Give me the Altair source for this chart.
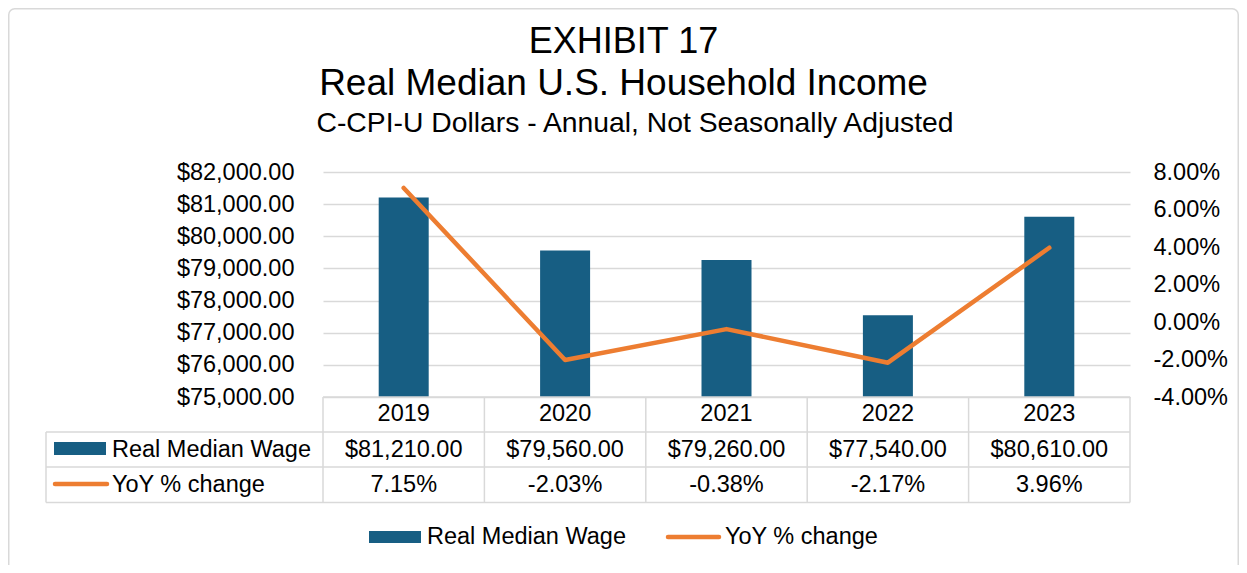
import altair as alt
import pandas as pd

# ---------------- data ----------------
years = ["2019", "2020", "2021", "2022", "2023"]
wage = [81210, 79560, 79260, 77540, 80610]
yoy = [7.15, -2.03, -0.38, -2.17, 3.96]
left_ticks = [75000, 76000, 77000, 78000, 79000, 80000, 81000, 82000]
right_ticks = [-4, -2, 0, 2, 4, 6, 8]
series = ["Real Median Wage", "YoY % change"]
title_lines = ["EXHIBIT 17", "Real Median U.S. Household Income"]
subtitle = "C-CPI-U Dollars - Annual, Not Seasonally Adjusted"

df = pd.DataFrame({"year": years, "wage": wage, "yoy": yoy})

# ---------------- style ----------------
W, H = 807, 225
PAD = {"left": 315, "top": 164, "right": 109, "bottom": 168}
FONT = "Liberation Sans"
BLUE = "#175E83"
ORANGE = "#ED7D31"
GRID = "#D9D9D9"
FS = 23.5

one = alt.Data(values=[{"k": 1}])

xenc = alt.X("year:O", scale=alt.Scale(paddingInner=0, paddingOuter=0), axis=None)

bars = alt.Chart(df).mark_bar(size=50, color=BLUE).encode(
    x=xenc,
    y=alt.Y(
        "wage:Q",
        scale=alt.Scale(domain=[left_ticks[0], left_ticks[-1]], zero=False, nice=False),
        axis=alt.Axis(
            values=left_ticks, format="$,.2f", grid=True, gridColor=GRID, gridWidth=1.5,
            domain=False, ticks=False, labelPadding=29, labelFontSize=FS, labelFont=FONT,
            labelColor="black", labelFlush=False, labelOverlap=False, title=None,
        ),
    ),
    y2=alt.datum(left_ticks[0]),
)

line = alt.Chart(df).mark_line(
    color=ORANGE, strokeWidth=4.5, strokeCap="round", strokeJoin="round"
).encode(
    x=xenc,
    y=alt.Y(
        "yoy:Q",
        scale=alt.Scale(domain=[right_ticks[0], right_ticks[-1]], zero=False, nice=False),
        axis=alt.Axis(
            orient="right", values=right_ticks,
            labelExpr="(datum.value < 0 ? '-' : '') + format(abs(datum.value), '.2f') + '%'",
            grid=False, domain=False, ticks=False, labelPadding=23, labelFontSize=FS,
            labelFont=FONT, labelColor="black", labelFlush=False, labelOverlap=False,
            title=None,
        ),
    ),
)

# ---------------- data table ----------------
def txt(**kw):
    base = dict(font=FONT, fontSize=FS, color="black", baseline="middle")
    base.update(kw)
    return base

year_row = alt.Chart(df).mark_text(**txt()).encode(x=xenc, y=alt.value(242), text="year:N")
wage_row = alt.Chart(df).mark_text(**txt()).encode(
    x=xenc, y=alt.value(277.5), text=alt.Text("wage:Q", format="$,.2f")
)
yoy_row = alt.Chart(df).transform_calculate(
    lab="(datum.yoy < 0 ? '-' : '') + format(abs(datum.yoy), '.2f') + '%'"
).mark_text(**txt()).encode(x=xenc, y=alt.value(313), text="lab:N")

def hrule(x1, x2, y, color=GRID, w=1.5, **kw):
    return alt.Chart(one).mark_rule(color=color, strokeWidth=w, **kw).encode(
        x=alt.value(x1), x2=alt.value(x2), y=alt.value(y)
    )

def vrule(x, y1, y2, color=GRID, w=1.5):
    return alt.Chart(one).mark_rule(color=color, strokeWidth=w).encode(
        x=alt.value(x), y=alt.value(y1), y2=alt.value(y2)
    )

table_lines = [
    hrule(0, W, 225),
    hrule(-277, W, 260),
    hrule(-277, W, 295),
    hrule(-277, W, 330.5),
    vrule(-277, 260, 330.5),
    vrule(W, 225, 330.5),
    alt.Chart(df).mark_rule(color=GRID, strokeWidth=1.5).encode(
        x=alt.X("year:O", bandPosition=0, scale=alt.Scale(paddingInner=0, paddingOuter=0), axis=None),
        y=alt.value(225), y2=alt.value(330.5),
    ),
]

def rect(x1, x2, y1, y2, color):
    return alt.Chart(one).mark_rect(color=color).encode(
        x=alt.value(x1), x2=alt.value(x2), y=alt.value(y1), y2=alt.value(y2)
    )

def label(x, y, s, **kw):
    return alt.Chart(one).mark_text(**txt(**kw)).encode(
        x=alt.value(x), y=alt.value(y), text=alt.value(s)
    )

table_keys = [
    rect(-269, -217, 270, 283, BLUE),
    label(-211, 277.5, series[0], align="left"),
    hrule(-268, -216, 312, color=ORANGE, w=4.5, strokeCap="round"),
    label(-211, 313, series[1], align="left"),
]

# ---------------- legend ----------------
legend = [
    rect(46, 98, 359, 371, BLUE),
    label(104, 365, series[0], align="left"),
    hrule(345, 396, 365, color=ORANGE, w=4.5, strokeCap="round"),
    label(402, 365, series[1], align="left"),
]

# ---------------- titles ----------------
CX = 300.5
titles = [
    label(CX, -119, title_lines[0], align="center", baseline="alphabetic", fontSize=36),
    label(CX, -77, title_lines[1], align="center", baseline="alphabetic", fontSize=37),
    label(312, -40, subtitle, align="center", baseline="alphabetic", fontSize=28.3),
]

# ---------------- frame ----------------
frame = alt.Chart(one).mark_rect(
    filled=False, stroke=GRID, strokeWidth=1.5, cornerRadius=6
).encode(
    x=alt.value(-314.25), x2=alt.value(W + PAD["right"] - 0.75),
    y=alt.value(-163.25), y2=alt.value(H + PAD["bottom"] + 20),
)

chart = alt.layer(
    frame, bars, line, year_row, wage_row, yoy_row,
    *table_lines, *table_keys, *legend, *titles,
).resolve_scale(y="independent").properties(
    width=W, height=H, padding=PAD,
    autosize=alt.AutoSizeParams(type="none"),
    background="white",
).configure_view(strokeWidth=0)

chart.save("out.html", embed_options={"renderer": "svg", "actions": False})
